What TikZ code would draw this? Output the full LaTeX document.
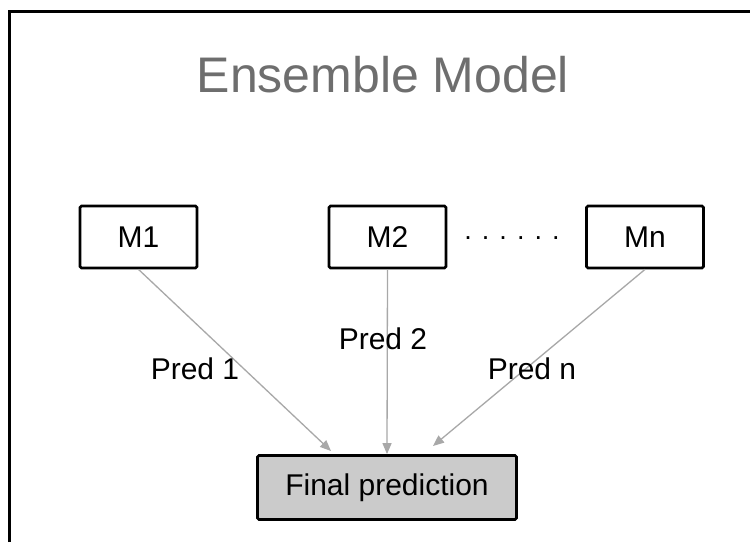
\documentclass[tikz,border=0pt]{standalone}
\usepackage{fontspec}
\setmainfont{Liberation Sans}
\usetikzlibrary{arrows.meta}
\definecolor{titlegray}{HTML}{6E6E6E}
\definecolor{linkgray}{HTML}{A8A8A8}
\definecolor{finalfill}{HTML}{CBCBCB}
\tikzset{
  modelbox/.style={draw=black, line width=2.8pt, rounded corners=1.5pt,
    minimum width=117pt, minimum height=62pt, inner sep=0pt,
    font=\fontsize{30}{36}\selectfont},
  finalbox/.style={modelbox, fill=finalfill, minimum width=259pt, minimum height=64pt},
  link/.style={draw=linkgray, line width=1.3pt,
    -{Triangle[length=11pt,width=9pt]}},
  predlabel/.style={inner sep=0pt, font=\fontsize{30}{36}\selectfont},
  frameline/.style={line width=3pt, black}
}
\begin{document}
\begin{tikzpicture}[x=1pt, y=-1pt]
  \useasboundingbox[fill=white] (0,0) rectangle (750,542);
  % outer frame (top and left edges)
  \draw[frameline] (9,542) -- (9,11) -- (750,11);

  % title
  \node[text=titlegray, font=\fontsize{50}{60}\selectfont, inner sep=0pt] (title) at (383,75) {Ensemble Model};

  % base models
  \node[modelbox] (m1) at (138.5,237) {M1};
  \node[modelbox] (m2) at (387.5,237) {M2};
  \node[modelbox] (mn) at (645,237) {Mn};
  \node[inner sep=0pt, font=\fontsize{27}{32}\selectfont] (dots) at (512,238) {. . . . . .};

  % combined output
  \node[finalbox] (fin) at (387,487.5) {Final prediction};

  % arrow end points just above the output box
  \coordinate (e1) at (331,451);
  \coordinate (en) at (433,446);

  \draw[link] (m1.south) -- (e1);
  \draw[link] (m2.south) -- (fin.north);
  \draw[link] (mn.south) -- (en);

  % prediction labels
  \node[predlabel] (p1) at (195,369) {Pred 1};
  \node[predlabel] (p2) at (383,339) {Pred 2};
  \node[predlabel] (pn) at (532,369) {Pred n};
\end{tikzpicture}
\end{document}
